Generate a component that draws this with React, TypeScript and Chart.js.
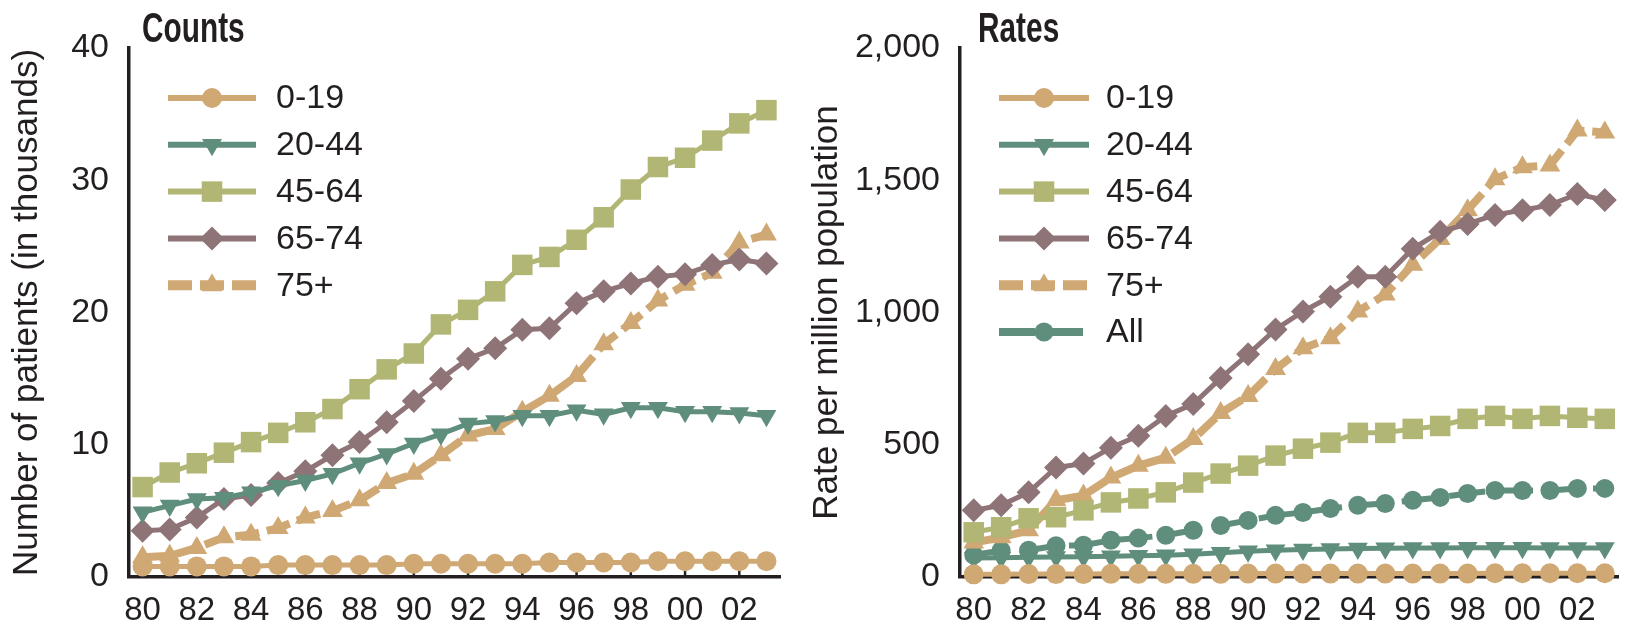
import React, { useEffect, useRef } from 'react';
import { Chart, registerables } from 'chart.js';

Chart.register(...registerables);

// Years 1980–2003, shown as two-digit labels
const years = ['80', '81', '82', '83', '84', '85', '86', '87', '88', '89', '90', '91', '92', '93', '94', '95', '96', '97', '98', '99', '00', '01', '02', '03'];

// Counts, in thousands of patients
const counts0to19 = [0.8, 0.8, 0.8, 0.8, 0.8, 0.9, 0.9, 0.9, 0.9, 0.9, 1.0, 1.0, 1.0, 1.0, 1.0, 1.1, 1.1, 1.1, 1.1, 1.2, 1.2, 1.2, 1.2, 1.2];
const counts20to44 = [4.9, 5.4, 5.9, 6.0, 6.4, 6.9, 7.3, 7.8, 8.6, 9.3, 10.1, 10.8, 11.6, 11.8, 12.2, 12.2, 12.6, 12.3, 12.8, 12.8, 12.5, 12.5, 12.4, 12.2];
const counts45to64 = [6.8, 7.9, 8.6, 9.4, 10.2, 10.9, 11.7, 12.7, 14.2, 15.7, 16.9, 19.1, 20.2, 21.6, 23.6, 24.2, 25.5, 27.2, 29.3, 31.0, 31.7, 33.0, 34.3, 35.3];
const counts65to74 = [3.5, 3.6, 4.5, 5.9, 6.2, 7.1, 8.0, 9.2, 10.2, 11.7, 13.3, 15.0, 16.5, 17.3, 18.7, 18.8, 20.7, 21.6, 22.2, 22.7, 22.9, 23.6, 24.0, 23.7];
const counts75plus = [1.5, 1.6, 2.2, 3.0, 3.2, 3.7, 4.5, 5.0, 5.8, 7.1, 7.8, 9.2, 10.7, 11.2, 12.5, 13.7, 15.2, 17.6, 19.2, 20.9, 22.1, 23.0, 25.3, 25.9];

// Rates per million population
const rates0to19 = [10, 10, 11, 11, 11, 12, 12, 12, 12, 12, 13, 13, 13, 13, 13, 13, 13, 13, 13, 14, 14, 14, 14, 14];
const rates20to44 = [72, 73, 75, 76, 77, 78, 80, 82, 86, 92, 97, 101, 104, 106, 108, 109, 110, 110, 111, 111, 111, 110, 110, 110];
const rates45to64 = [169, 188, 222, 226, 252, 282, 297, 320, 357, 391, 421, 459, 485, 508, 545, 545, 560, 571, 598, 609, 598, 609, 602, 598];
const rates65to74 = [252, 271, 320, 414, 429, 489, 534, 609, 654, 752, 842, 936, 1004, 1060, 1135, 1135, 1241, 1305, 1335, 1369, 1387, 1406, 1448, 1425];
const rates75plus = [130, 150, 177, 290, 308, 376, 421, 451, 522, 620, 684, 786, 865, 903, 1004, 1068, 1181, 1278, 1387, 1504, 1549, 1556, 1688, 1681];
const ratesAll = [83, 100, 101, 118, 120, 139, 147, 158, 177, 195, 214, 233, 244, 259, 271, 278, 290, 301, 316, 327, 327, 327, 335, 335];

const countTicks = { min: 0, max: 40, step: 10 };
const rateTicks = { min: 0, max: 2000, step: 500 };

const FONT = '"Liberation Sans", Arial, sans-serif';
const INK = '#231f20';
const TAN = '#CFA874';
const TEAL = '#5F8E7D';
const OLIVE = '#B2B674';
const MAUVE = '#8E7377';

type Series = {
  label: string;
  data: number[];
  color: string;
  pointStyle: string;
  radius: number;
  rotation?: number;
  width: number;
  dash?: number[];
};

function makeDataset(s: Series) {
  return {
    label: s.label,
    data: s.data,
    borderColor: s.color,
    backgroundColor: s.color,
    borderWidth: s.width,
    borderDash: s.dash || [],
    pointStyle: s.pointStyle,
    pointRadius: s.radius,
    pointHoverRadius: s.radius,
    pointRotation: s.rotation || 0,
    pointBackgroundColor: s.color,
    pointBorderColor: s.color,
    pointBorderWidth: 0,
    clip: false as const,
    tension: 0,
    fill: false,
  };
}

function drawMarker(ctx: CanvasRenderingContext2D, style: string, r: number, x: number, y: number, rotation: number) {
  ctx.beginPath();
  if (style === 'circle') {
    ctx.arc(x, y, r, 0, Math.PI * 2);
  } else if (style === 'rect') {
    const s = r * Math.SQRT1_2;
    ctx.rect(x - s, y - s, 2 * s, 2 * s);
  } else if (style === 'rectRot') {
    ctx.moveTo(x, y - r);
    ctx.lineTo(x + r, y);
    ctx.lineTo(x, y + r);
    ctx.lineTo(x - r, y);
    ctx.closePath();
  } else {
    const a0 = (rotation * Math.PI) / 180;
    for (let k = 0; k < 3; k++) {
      const a = a0 + (k * 2 * Math.PI) / 3;
      const px = x + Math.sin(a) * r;
      const py = y - Math.cos(a) * r;
      if (k === 0) ctx.moveTo(px, py);
      else ctx.lineTo(px, py);
    }
    ctx.closePath();
  }
  ctx.fill();
}

// Panel title, in-plot legend and short inward ticks at labelled years
const panelDecor = {
  id: 'panelDecor',
  beforeDatasetsDraw(chart: any) {
    const { ctx, chartArea, scales } = chart;
    const x = scales.x;
    ctx.save();
    ctx.strokeStyle = INK;
    ctx.lineWidth = 2.5;
    for (let i = 0; i < years.length; i += 2) {
      const px = x.getPixelForValue(i);
      ctx.beginPath();
      ctx.moveTo(px, chartArea.bottom);
      ctx.lineTo(px, chartArea.bottom - 9);
      ctx.stroke();
    }
    ctx.restore();
  },
  afterDraw(chart: any, _args: any, opts: any) {
    const { ctx } = chart;
    ctx.save();
    // title, bold and horizontally condensed
    ctx.fillStyle = INK;
    ctx.font = `bold 42px ${FONT}`;
    ctx.textBaseline = 'alphabetic';
    ctx.textAlign = 'left';
    ctx.translate(opts.titleX, 42);
    ctx.scale(0.71, 1);
    ctx.fillText(opts.title, 0, 0);
    ctx.restore();

    ctx.save();
    chart.data.datasets.forEach((ds: any, i: number) => {
      const y = opts.rowY + i * opts.rowGap;
      ctx.strokeStyle = ds.borderColor;
      ctx.lineWidth = ds.borderDash && ds.borderDash.length ? ds.borderWidth + 2 : ds.borderWidth + 1;
      ctx.setLineDash(ds.borderDash || []);
      ctx.beginPath();
      ctx.moveTo(opts.x0, y);
      ctx.lineTo(opts.x1, y);
      ctx.stroke();
      ctx.setLineDash([]);
      ctx.fillStyle = ds.borderColor;
      drawMarker(ctx, ds.pointStyle, ds.pointRadius, (opts.x0 + opts.x1) / 2, y, ds.pointRotation || 0);
      ctx.fillStyle = INK;
      ctx.font = `34px ${FONT}`;
      ctx.textBaseline = 'middle';
      ctx.textAlign = 'left';
      ctx.fillText(ds.label, opts.textX, y + 1);
    });
    ctx.restore();
  },
};

function makeOptions(
  range: { min: number; max: number; step: number },
  yTitle: string,
  rightPad: number,
  yWidth: number,
  decor: any,
) {
  return {
    responsive: false,
    animation: false as const,
    layout: { padding: { left: 0, top: 48, right: rightPad, bottom: 0 } },
    plugins: {
      legend: { display: false },
      tooltip: { enabled: false },
      panelDecor: decor,
    },
    scales: {
      x: {
        type: 'category' as const,
        offset: true,
        grid: { display: false, drawTicks: false },
        border: { display: true, color: INK, width: 3.5 },
        ticks: {
          autoSkip: false,
          maxRotation: 0,
          minRotation: 0,
          padding: 14,
          color: INK,
          font: { family: FONT, size: 33 },
          callback: (_v: any, i: number) => (i % 2 === 0 ? years[i] : ''),
        },
        afterFit: (s: any) => {
          s.height = 53;
        },
      },
      y: {
        min: range.min,
        max: range.max,
        grid: { display: false, drawTicks: false },
        border: { display: true, color: INK, width: 3.5 },
        ticks: {
          stepSize: range.step,
          padding: 20,
          color: INK,
          font: { family: FONT, size: 34 },
          callback: (v: any) => Number(v).toLocaleString('en-US'),
        },
        title: {
          display: true,
          text: yTitle,
          color: INK,
          font: { family: FONT, size: 35 },
          padding: { top: 6, bottom: 0 },
        },
        afterFit: (s: any) => {
          s.width = yWidth;
        },
      },
    },
  };
}

export default function App() {
  const leftRef = useRef<HTMLCanvasElement | null>(null);
  const rightRef = useRef<HTMLCanvasElement | null>(null);

  useEffect(() => {
    const countSeries: Series[] = [
      { label: '0-19', data: counts0to19, color: TAN, pointStyle: 'circle', radius: 10, width: 5 },
      { label: '20-44', data: counts20to44, color: TEAL, pointStyle: 'triangle', radius: 11.5, rotation: 180, width: 5 },
      { label: '45-64', data: counts45to64, color: OLIVE, pointStyle: 'rect', radius: 14.5, width: 5 },
      { label: '65-74', data: counts65to74, color: MAUVE, pointStyle: 'rectRot', radius: 12, width: 5 },
      { label: '75+', data: counts75plus, color: TAN, pointStyle: 'triangle', radius: 12, width: 8, dash: [24, 8] },
    ];
    const rateSeries: Series[] = [
      { label: '0-19', data: rates0to19, color: TAN, pointStyle: 'circle', radius: 10, width: 5 },
      { label: '20-44', data: rates20to44, color: TEAL, pointStyle: 'triangle', radius: 11.5, rotation: 180, width: 5 },
      { label: '45-64', data: rates45to64, color: OLIVE, pointStyle: 'rect', radius: 14.5, width: 5 },
      { label: '65-74', data: rates65to74, color: MAUVE, pointStyle: 'rectRot', radius: 12, width: 5 },
      { label: '75+', data: rates75plus, color: TAN, pointStyle: 'triangle', radius: 12, width: 8, dash: [24, 8] },
      { label: 'All', data: ratesAll, color: TEAL, pointStyle: 'circle', radius: 9.5, width: 6, dash: [36, 12] },
    ];

    const left = new Chart(leftRef.current as HTMLCanvasElement, {
      type: 'line',
      data: { labels: years, datasets: countSeries.map(makeDataset) as any },
      options: makeOptions(countTicks, 'Number of patients (in thousands)', 20, 129, {
        title: 'Counts', titleX: 142, x0: 168, x1: 256, textX: 276, rowY: 98, rowGap: 46.8,
      }) as any,
      plugins: [panelDecor],
    });
    const right = new Chart(rightRef.current as HTMLCanvasElement, {
      type: 'line',
      data: { labels: years, datasets: rateSeries.map(makeDataset) as any },
      options: makeOptions(rateTicks, 'Rate per million population', 0, 160, {
        title: 'Rates', titleX: 178, x0: 199, x1: 289, textX: 306, rowY: 98, rowGap: 46.8,
      }) as any,
      plugins: [panelDecor],
    });
    return () => {
      left.destroy();
      right.destroy();
    };
  }, []);

  return (
    <div style={{ position: 'absolute', left: 0, top: 0, width: 1633, height: 630, background: '#fff' }}>
      <canvas ref={leftRef} width={800} height={630} style={{ position: 'absolute', left: 0, top: 0, display: 'block' }} />
      <canvas ref={rightRef} width={833} height={630} style={{ position: 'absolute', left: 800, top: 0, display: 'block' }} />
    </div>
  );
}
